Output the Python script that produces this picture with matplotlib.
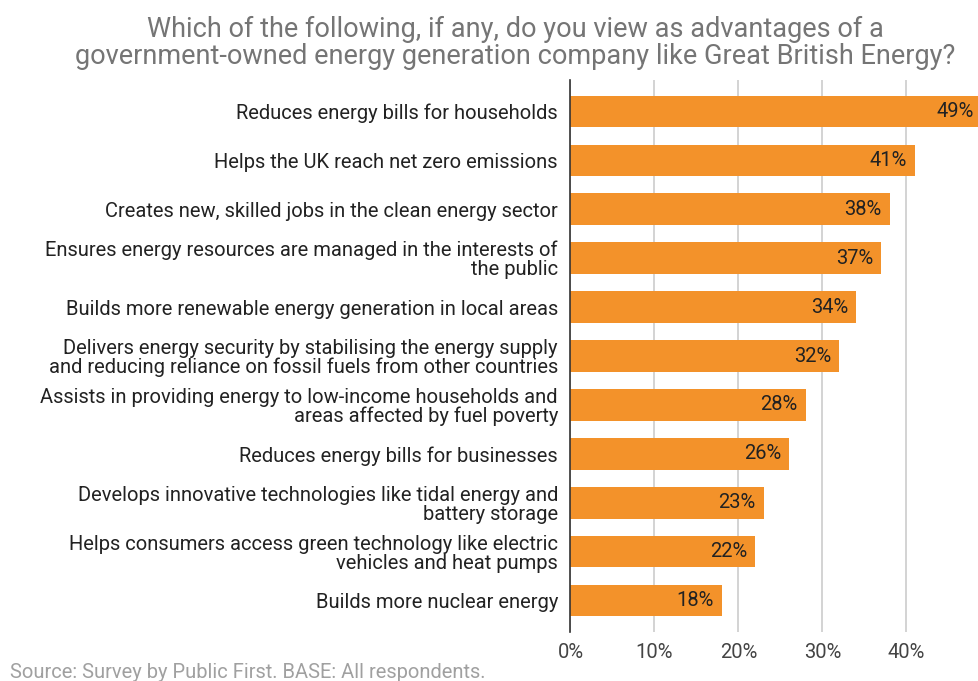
import matplotlib.pyplot as plt

plt.rcParams['font.family'] = ['Roboto', 'DejaVu Sans']

categories = [
    "Reduces energy bills for households",
    "Helps the UK reach net zero emissions",
    "Creates new, skilled jobs in the clean energy sector",
    "Ensures energy resources are managed in the interests of\nthe public",
    "Builds more renewable energy generation in local areas",
    "Delivers energy security by stabilising the energy supply\nand reducing reliance on fossil fuels from other countries",
    "Assists in providing energy to low-income households and\nareas affected by fuel poverty",
    "Reduces energy bills for businesses",
    "Develops innovative technologies like tidal energy and\nbattery storage",
    "Helps consumers access green technology like electric\nvehicles and heat pumps",
    "Builds more nuclear energy",
]
values = [49, 41, 38, 37, 34, 32, 28, 26, 23, 22, 18]
xticks = [0, 10, 20, 30, 40]

title = ("Which of the following, if any, do you view as advantages of a\n"
         "government-owned energy generation company like Great British Energy?")
source = "Source: Survey by Public First. BASE: All respondents."

W, H = 979, 681
fig = plt.figure(figsize=(W / 100, H / 100), dpi=100)
ax = fig.add_axes([570.5 / W, 1 - 632 / H, (W - 570.5) / W, (632 - 80) / H])

ypos = list(range(len(values)))
ax.barh(ypos, values, height=0.65, color='#F3922A', zorder=3)
for y, v in zip(ypos, values):
    ax.text(v - 0.95, y, f"{v}%", ha='right', va='center', fontsize=14.5,
            color='#222222', zorder=4, clip_on=False)

ax.set_xlim(0, (W - 570.5) / 8.4)
ax.set_ylim(len(values) - 0.355, -0.645)
ax.set_xticks(xticks)
ax.set_xticklabels([f"{t}%" for t in xticks], fontsize=14.5, color='#444444')
ax.set_yticks(ypos)
ax.set_yticklabels(categories, fontsize=14.5, color='#222222', linespacing=1.0)
ax.tick_params(axis='both', length=0)
ax.tick_params(axis='y', pad=9)
ax.tick_params(axis='x', pad=8)
for t in ax.get_yticklabels():
    t.set_horizontalalignment('right')
    t.set_multialignment('right')
    t.set_y(t.get_position()[1])

ax.grid(axis='x', color='#CCCCCC', linewidth=1.2, zorder=0)
for s in ['top', 'right', 'bottom']:
    ax.spines[s].set_visible(False)
ax.spines['left'].set_color('#333333')
ax.spines['left'].set_linewidth(1.2)
ax.spines['left'].set_zorder(5)

fig.text(515 / W, 1 - 43 / H, title, ha='center', va='center', fontsize=19.5,
         color='#757575', linespacing=0.98)
fig.text(10 / W, 1 - 672 / H, source, ha='left', va='center', fontsize=14.5,
         color='#A0A0A0')

fig.savefig('out.png', dpi=100)
